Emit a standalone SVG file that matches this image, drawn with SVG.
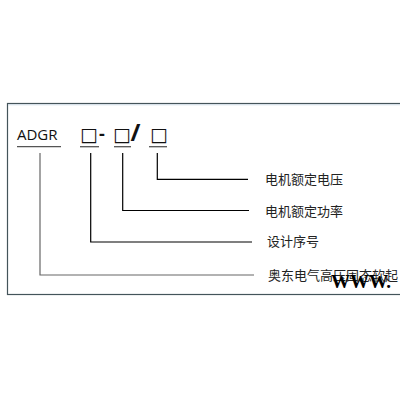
<svg xmlns="http://www.w3.org/2000/svg" width="400" height="400" viewBox="0 0 400 400">
<style>
.code{font-family:"Open Sans","Liberation Sans",sans-serif;font-size:15px;fill:#111}
.box{font-family:"DejaVu Sans",sans-serif;font-size:19px;fill:#111}
.lbl{font-family:"Noto Sans CJK SC",sans-serif;font-size:13px;fill:#222}
.ul{stroke:#555;stroke-width:1.3;fill:none}
.con{stroke:#000;stroke-width:1.2;fill:none}
</style>
<rect width="400" height="400" fill="#fff"/>
<rect id="frame" x="7.5" y="103.5" width="420" height="191" fill="none" stroke="#44545a" stroke-width="1.2"/>
<line x1="8" y1="104.8" x2="400" y2="104.8" stroke="#c8d8e4" stroke-width="0.8"/>
<g id="code">
<text class="code" x="17" y="140">ADGR</text>
<text class="box" x="80" y="140.5">□</text>
<text class="code" x="99" y="140" style="font-size:18px;font-weight:bold">-</text>
<text class="box" x="113" y="140.5">□</text>
<text class="code" x="130.5" y="141" style="font-size:24px;font-weight:bold">/</text>
<text class="box" x="150" y="140.5">□</text>
<line class="ul" x1="17" y1="146.7" x2="61" y2="146.7"/>
<line class="ul" x1="80" y1="146.7" x2="99" y2="146.7"/>
<line class="ul" x1="114" y1="146.7" x2="131" y2="146.7"/>
<line class="ul" x1="149" y1="146.7" x2="167" y2="146.7"/>
</g>
<g id="connectors">
<polyline points="40,153 40,275 254,275" class="con" style="stroke:#666"/>
<polyline points="90.7,153 90.7,242 252,242" class="con"/>
<polyline points="122.7,153 122.7,210.5 249,210.5" class="con"/>
<polyline points="157.3,153 157.3,179.3 248,179.3" class="con"/>
</g>
<g id="n-voltage"><text class="lbl" x="265" y="184">电机额定电压</text></g>
<g id="n-power"><text class="lbl" x="265" y="216">电机额定功率</text></g>
<g id="n-serial"><text class="lbl" x="267" y="246">设计序号</text></g>
<g id="n-maker"><text class="lbl" x="268" y="280">奥东电气高压固态软起</text></g>
<text x="331" y="287.5" style="font-family:'Liberation Serif',serif;font-size:19px;font-weight:bold;fill:#000">WWW.</text>
</svg>
